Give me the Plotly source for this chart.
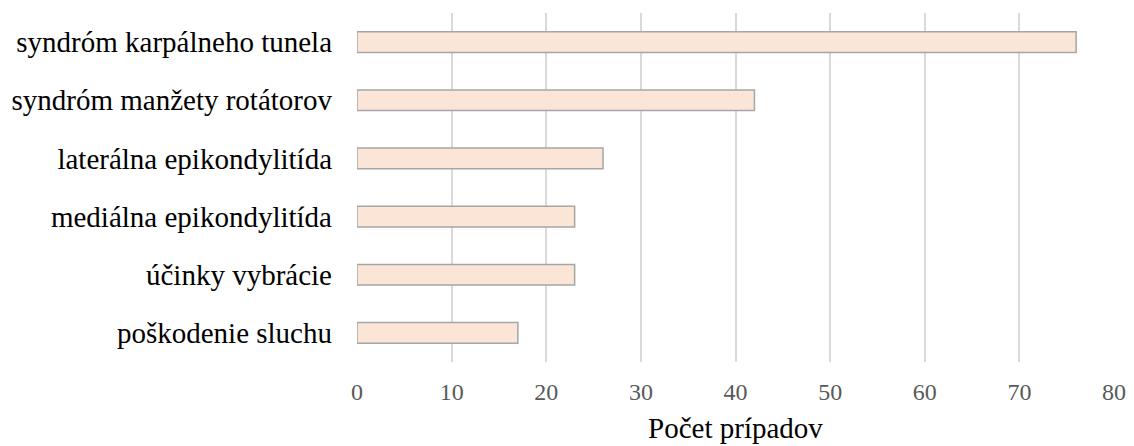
import plotly.graph_objects as go

# Kategórie (zhora nadol) a počty prípadov
categories = [
    "syndróm karpálneho tunela",
    "syndróm manžety rotátorov",
    "laterálna epikondylitída",
    "mediálna epikondylitída",
    "účinky vybrácie",
    "poškodenie sluchu",
]
counts = [76, 42, 26, 23, 23, 17]
x_ticks = [0, 10, 20, 30, 40, 50, 60, 70, 80]

SERIF = "Liberation Serif"

fig = go.Figure(
    go.Bar(
        x=counts,
        y=categories,
        orientation="h",
        marker=dict(color="#FBE5D6", line=dict(color="#A6A6A6", width=1.5)),
        width=0.355,
    )
)

fig.update_layout(
    width=1134,
    height=446,
    margin=dict(l=357, r=20, t=13, b=84),
    paper_bgcolor="white",
    plot_bgcolor="white",
    showlegend=False,
    font=dict(family=SERIF),
)

fig.update_xaxes(
    range=[0, 80],
    tickvals=x_ticks,
    showgrid=True,
    gridcolor="#D9D9D9",
    gridwidth=1.5,
    zeroline=False,
    showline=False,
    automargin=False,
    tickfont=dict(size=24, color="#595959", family=SERIF),
    ticklabelstandoff=13,
    title=dict(text="Počet prípadov", font=dict(size=29, color="black", family=SERIF), standoff=13),
)

fig.update_yaxes(
    categoryorder="array",
    categoryarray=categories[::-1],
    showgrid=False,
    zeroline=False,
    showline=False,
    automargin=False,
    tickfont=dict(size=29, color="black", family=SERIF),
    ticklabelstandoff=24,
)

fig.write_html("out.html")
